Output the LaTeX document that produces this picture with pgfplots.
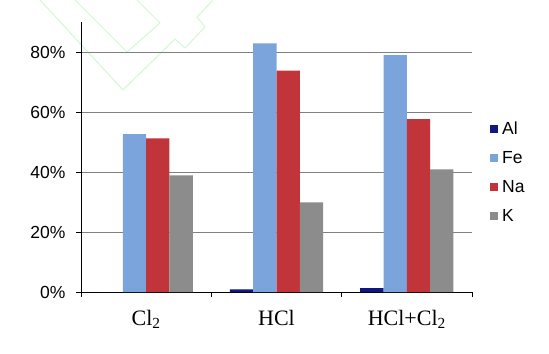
\documentclass[border=0pt]{standalone}
\usepackage{fontspec}
\setmainfont{Liberation Sans}
\newfontfamily\seriff{Liberation Serif}
\usepackage{pgfplots}
\pgfplotsset{compat=1.18}
\definecolor{cAl}{RGB}{16,24,128}
\definecolor{cFe}{RGB}{124,164,220}
\definecolor{cNa}{RGB}{192,52,58}
\definecolor{cK}{RGB}{140,140,140}
\definecolor{wm}{RGB}{212,246,212}
\begin{document}
\begin{tikzpicture}[x=1bp,y=1bp]
\useasboundingbox (-81,-61) rectangle (468,292);
% faint watermark
\draw[wm, line width=1bp] (-6,292) -- (46,240) -- (79,269) -- (56,292);
\draw[wm, line width=1bp] (-41,292) -- (42,202) -- (94,253) -- (104,244) -- (124,265) -- (116,275) -- (132,292);
\begin{axis}[
  at={(0,0)}, anchor=south west,
  scale only axis, width=391bp, height=270bp,
  ybar=0pt, bar width=23.3bp,
  xmin=-0.5, xmax=2.5, ymin=0, ymax=90,
  axis x line*=bottom, axis y line*=left,
  axis line style={black, line width=0.8bp},
  xtick={0,1,2},
  xticklabels={Cl\textsubscript{2}, HCl, HCl+Cl\textsubscript{2}},
  minor xtick={-0.5,0.5,1.5,2.5},
  major x tick style={draw=none},
  minor x tick style={black, line width=0.8bp},
  minor tick length=5bp,
  ytick={0,20,40,60,80},
  yticklabel={\pgfmathprintnumber{\tick}\%},
  /pgf/number format/assume math mode=true,
  major y tick style={black, line width=0.8bp},
  major tick length=5bp,
  tick align=outside,
  ymajorgrids,
  major grid style={draw=gray, line width=1bp},
  xticklabel style={font=\seriff\fontsize{22bp}{26bp}\selectfont, yshift=-10bp},
  yticklabel style={font=\fontsize{17.5bp}{20bp}\selectfont, xshift=-7bp},
  legend image code/.code={\fill[#1] (0bp,-4bp) rectangle (8bp,4bp);},
  legend style={draw=none, fill=none, inner sep=0pt,
    at={(rel axis cs:1,0.444)}, anchor=west, xshift=18bp,
    font=\fontsize{17.5bp}{20bp}\selectfont,
    row sep=13bp,
    nodes={inner sep=2bp, text height=12bp, text depth=0bp},
    /tikz/every odd column/.style={column sep=2bp}},
  legend cell align=left,
  clip=false,
]
\addplot[fill=cAl, draw=none] coordinates {(0,0) (1,0.9) (2,1.3)};
\addplot[fill=cFe, draw=none] coordinates {(0,52.6) (1,82.9) (2,79.0)};
\addplot[fill=cNa, draw=none] coordinates {(0,51.2) (1,73.8) (2,57.6)};
\addplot[fill=cK, draw=none] coordinates {(0,38.9) (1,29.9) (2,40.9)};
\legend{Al, Fe, Na, K}
\end{axis}
\end{tikzpicture}
\end{document}
